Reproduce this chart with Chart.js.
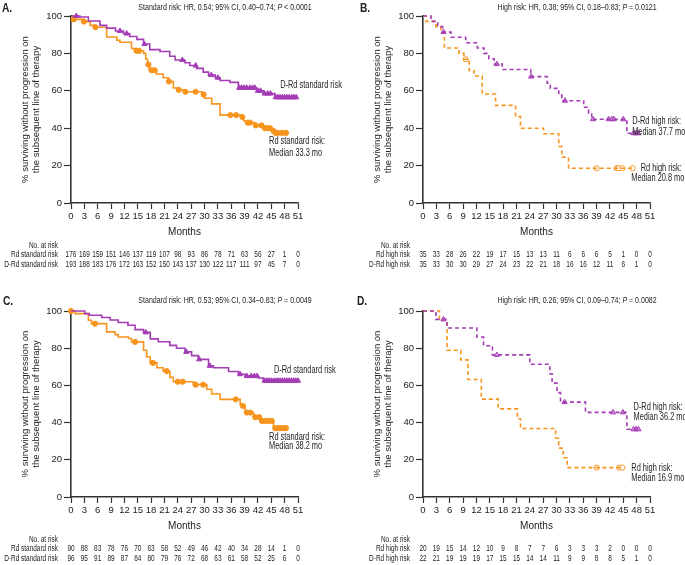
<!DOCTYPE html>
<html>
<head>
<meta charset="utf-8">
<script src="https://cdn.jsdelivr.net/npm/chart.js@4.4.1/dist/chart.umd.min.js"></script>
<style>
  body { margin: 0; background: #fff; width: 685px; height: 565px; position: relative; overflow: hidden; }
  .panel { position: absolute; }
</style>
</head>
<body>
<div class="panel" style="left:0;top:0"><canvas id="chartA" width="342" height="294"></canvas></div>
<div class="panel" style="left:342px;top:0"><canvas id="chartB" width="343" height="294"></canvas></div>
<div class="panel" style="left:0;top:294px"><canvas id="chartC" width="342" height="271"></canvas></div>
<div class="panel" style="left:342px;top:294px"><canvas id="chartD" width="343" height="271"></canvas></div>
<script>
// month ticks for the risk tables (0..51 every 3)
const riskMonths = [0, 3, 6, 9, 12, 15, 18, 21, 24, 27, 30, 33, 36, 39, 42, 45, 48, 51];

// ---- Panel A: standard risk ----
const aRdTimes = [0, 0.5, 2.8, 4.3, 5.4, 8, 10.3, 11, 13.6, 14.6, 16.3, 16.8, 17.2, 17.6, 19.2, 20.7, 21.9, 23, 24.1, 25.6, 29.5, 30, 31.6, 33.5, 38.2, 38.8, 39.6, 41.3, 43.2, 45.3, 45.8];
const aRdSurv = [100, 98.2, 97, 95, 94, 88.8, 87, 86, 82.6, 81.4, 80, 77, 74, 71, 69, 67, 65, 61.5, 60.5, 59.5, 58, 56, 53, 47, 46, 44, 43, 41.5, 40, 38.5, 37.5];
const aRdCensor = [0.6, 2.9, 5.5, 14.7, 15.3, 17.4, 18.1, 18.8, 22, 24.2, 25.7, 28, 29.8, 35.8, 37.1, 38.5, 39.7, 40.2, 41.5, 42.8, 43.6, 44.2, 44.7, 45.5, 46, 46.5, 47.4, 48.3];
const aRdEnd = 48.3;
const aDrdTimes = [0, 2, 3.9, 6.5, 8, 10, 11.8, 13.2, 14.8, 16.3, 17.7, 20, 22.2, 23.4, 25.6, 26.7, 28.2, 29.7, 30.9, 32.4, 33.5, 35.7, 37.6, 41.7, 43.2, 45.8];
const aDrdSurv = [100, 99.5, 97.3, 95, 93.5, 92, 90.6, 89, 87.5, 85, 82, 81, 78.5, 76.5, 75, 73.5, 72, 70, 68.4, 67, 65.5, 64.5, 61.6, 60, 58.5, 56.5];
const aDrdCensor = [1.2, 11, 12.5, 16.5, 25, 28, 31.5, 33, 37.8, 38.3, 38.9, 39.5, 40.2, 40.8, 41.3, 42, 42.6, 43.5, 44.2, 44.8, 46, 46.5, 47, 47.5, 48, 48.5, 49, 49.6, 50.1, 50.6];
const aDrdEnd = 50.6;
const aRdRisk = [176, 169, 159, 151, 146, 137, 119, 107, 98, 93, 86, 78, 71, 63, 56, 27, 1, 0];
const aDrdRisk = [193, 188, 183, 176, 172, 163, 152, 150, 143, 137, 130, 122, 117, 111, 97, 45, 7, 0];

// ---- Panel B: high risk ----
const bRdTimes = [0, 0.7, 2.9, 4, 4.8, 8.1, 9.2, 10.4, 11.5, 13.3, 16.3, 20.8, 21.9, 27.1, 30.5, 31.2, 32.7];
const bRdSurv = [100, 97.1, 94.3, 91.4, 82.9, 80, 76.9, 70.7, 67.9, 58.3, 52.2, 46.2, 40, 37, 30.2, 24.5, 18.6];
const bRdCensor = [9.6, 39, 43.5, 43.9, 44.8, 47.1];
const bRdEnd = 47.1;
const bDrdTimes = [0, 1.8, 3.3, 4.4, 6.3, 9.6, 12.2, 13.7, 14.8, 16, 17.8, 24.2, 27.9, 28.6, 30.5, 31.2, 36.1, 37.2, 37.9, 45.8];
const bDrdSurv = [100, 97.1, 94.3, 91.4, 88.6, 85.7, 82.9, 80, 77.1, 74.3, 71.4, 67.6, 64, 61.3, 57.7, 54.7, 51.2, 48, 44.8, 37.3];
const bDrdCensor = [4.6, 16.6, 24.3, 31.9, 38.2, 41.7, 42.4, 42.9, 45, 47.3, 47.9, 48.4];
const bDrdEnd = 48.4;
const bRdRisk = [35, 33, 28, 26, 22, 19, 17, 15, 13, 13, 11, 6, 6, 6, 5, 1, 0, 0];
const bDrdRisk = [35, 33, 30, 30, 29, 27, 24, 23, 22, 21, 18, 16, 16, 12, 11, 6, 1, 0];

// ---- Panel C: standard risk ----
const cRdTimes = [0, 0.9, 3.9, 4.6, 8, 9.9, 10.6, 12.9, 13.6, 16.3, 17, 17.8, 19.3, 20.7, 22.2, 23, 27.5, 30.5, 31.6, 33.5, 38, 38.4, 39.1, 41, 42.5, 45.5];
const cRdSurv = [100, 98.6, 95, 93.2, 88.8, 87.3, 86, 85.2, 83.4, 78.9, 75.4, 72.1, 69.5, 67.7, 64.3, 62, 60.4, 57.9, 55.4, 52.5, 50, 49, 45.4, 42.9, 40.9, 37];
const cRdCensor = [0, 5.4, 14.4, 18.4, 21.5, 24, 25.1, 28, 29.7, 37, 38.6, 39.5, 40.3, 41.4, 42.3, 42.9, 43.6, 44.4, 45.1, 45.9, 46.4, 46.9, 47.4, 47.9, 48.3];
const cRdEnd = 48.3;
const cDrdTimes = [0, 3.1, 4.1, 6.9, 8.8, 10.6, 12.8, 14.4, 16.3, 17.8, 19.6, 22.2, 23.7, 25.6, 27.1, 28.6, 30.9, 32, 35.4, 37.6, 39.1, 42.1, 43.2];
const cDrdSurv = [100, 98.6, 97.7, 96.5, 95.2, 93.8, 92.3, 90, 88.5, 85, 83.5, 81.5, 80, 78, 76, 74, 70.5, 69.5, 67.5, 66, 65, 64, 62.5];
const cDrdCensor = [16.8, 25.9, 28.8, 31.2, 38, 39.5, 40.5, 41.2, 41.8, 43.5, 44, 44.5, 45, 45.5, 46, 46.5, 47, 47.5, 48, 48.5, 49, 49.5, 50, 50.5, 51];
const cDrdEnd = 51;
const cRdRisk = [90, 88, 83, 78, 76, 70, 63, 58, 52, 49, 46, 42, 40, 34, 28, 14, 1, 0];
const cDrdRisk = [96, 95, 91, 89, 87, 84, 80, 79, 76, 72, 68, 63, 61, 58, 52, 25, 6, 0];

// ---- Panel D: high risk ----
const dRdTimes = [0, 3.7, 5.4, 8.5, 10.1, 13.1, 16.9, 21.2, 21.9, 29.8, 30.5, 31.5, 32.4];
const dRdSurv = [100, 95, 78.9, 73.7, 63.2, 52.6, 47.4, 42.1, 36.8, 31.6, 26.3, 21.1, 15.8];
const dRdCensor = [39, 44.1, 44.8];
const dRdEnd = 44.8;
const dDrdTimes = [0, 2.9, 5.4, 12.1, 13.6, 15.6, 24, 28.5, 29, 30.1, 30.9, 36.5, 45.8];
const dDrdSurv = [100, 95.5, 90.9, 86, 81.3, 76.4, 71.4, 66.3, 61.2, 56.1, 51, 45.5, 36.4];
const dDrdCensor = [4.6, 16.6, 31.8, 42.7, 44.9, 47.3, 47.9, 48.4];
const dDrdEnd = 48.4;
const dRdRisk = [20, 19, 15, 14, 12, 10, 9, 8, 7, 7, 6, 3, 3, 3, 2, 0, 0, 0];
const dDrdRisk = [22, 21, 19, 19, 19, 17, 15, 15, 14, 14, 11, 9, 9, 8, 8, 5, 1, 0];

const ORANGE = "#f7941d";
const PURPLE = "#a43db5";
const FONT = "'Liberation Sans', Arial, sans-serif";

// value of the step curve at time t
function survAt(times, surv, t) {
    let v = surv[0];
    for (let i = 0; i < times.length; i++) {
        if (times[i] <= t) v = surv[i];
    }
    return v;
}

function stepData(times, surv, end) {
    const pts = times.map((t, i) => ({ x: t, y: surv[i] }));
    pts.push({ x: end, y: surv[surv.length - 1] });
    return pts;
}

function curveSets(times, surv, censor, end, color, dashed, marker, open) {
    return [
        {
            type: "line",
            data: stepData(times, surv, end),
            borderColor: color,
            borderWidth: 1.6,
            borderDash: dashed ? [4, 3] : [],
            stepped: true,
            pointRadius: 0,
            fill: false
        },
        {
            type: "scatter",
            data: censor.map(t => ({ x: t, y: survAt(times, surv, t) })),
            pointStyle: marker,
            pointRadius: marker === "triangle" ? 3 : 2.6,
            borderWidth: 1,
            borderColor: color,
            backgroundColor: open ? (marker === "triangle" ? "rgba(196,130,210,0.8)" : "#fff") : color
        }
    ];
}

// narrow text: the original uses a condensed face, so squeeze horizontally
function narrowText(ctx, text, x, y, align, sx) {
    ctx.save();
    ctx.translate(x, y);
    ctx.scale(sx, 1);
    ctx.textAlign = align;
    ctx.fillText(text, 0, 0);
    ctx.restore();
}

// draws letter, HR title, curve labels and the number-at-risk table
function extrasPlugin(cfg) {
    return {
        id: "kmExtras",
        afterDraw(chart) {
            const ctx = chart.ctx;
            const x = chart.scales.x, y = chart.scales.y;
            const area = chart.chartArea;
            ctx.save();
            ctx.fillStyle = "#222";
            ctx.textBaseline = "middle";

            // panel letter
            ctx.font = "bold 12px " + FONT;
            narrowText(ctx, cfg.letter, cfg.letterX, cfg.titleY + 2, "left", 0.85);

            // title with italic P
            const sx = 0.74;
            const parts = [[cfg.title[0], "normal"], ["P", "italic"], [cfg.title[1], "normal"]];
            let total = 0;
            parts.forEach(p => { ctx.font = p[1] + " 9.5px " + FONT; total += ctx.measureText(p[0]).width * sx; });
            let tx = area.left + 154 - total / 2;
            parts.forEach(p => {
                ctx.font = p[1] + " 9.5px " + FONT;
                narrowText(ctx, p[0], tx, cfg.titleY, "left", sx);
                tx += ctx.measureText(p[0]).width * sx;
            });

            // curve labels
            ctx.font = "10px " + FONT;
            cfg.notes.forEach(n => {
                narrowText(ctx, n[0], x.getPixelForValue(n[1]), y.getPixelForValue(n[2]), "left", 0.74);
            });

            // number at risk
            ctx.font = "8.5px " + FONT;
            const labX = area.left - 13;
            narrowText(ctx, "No. at risk", labX, area.bottom + 43, "right", 0.76);
            narrowText(ctx, cfg.rows[0][0], labX, area.bottom + 52, "right", 0.76);
            narrowText(ctx, cfg.rows[1][0], labX, area.bottom + 61.5, "right", 0.76);
            riskMonths.forEach((m, i) => {
                const px = x.getPixelForValue(m);
                narrowText(ctx, String(cfg.rows[0][1][i]), px, area.bottom + 52, "center", 0.76);
                narrowText(ctx, String(cfg.rows[1][1][i]), px, area.bottom + 61.5, "center", 0.76);
            });
            ctx.restore();
        }
    };
}

function makeChart(id, opts) {
    const axisFont = { family: FONT, size: 9.5 };
    new Chart(document.getElementById(id), {
        data: { datasets: opts.datasets },
        options: {
            responsive: false,
            animation: false,
            layout: { padding: { left: 0, top: opts.top, right: opts.right, bottom: opts.bottom } },
            plugins: { legend: { display: false }, tooltip: { enabled: false } },
            elements: { line: { tension: 0 } },
            datasets: { line: { clip: false }, scatter: { clip: false } },
            scales: {
                x: {
                    type: "linear",
                    min: 0,
                    max: 51,
                    ticks: { stepSize: 3, autoSkip: false, color: "#222", font: axisFont, padding: 2, maxRotation: 0 },
                    grid: { drawOnChartArea: false, tickLength: 6, tickColor: "#333", tickWidth: 1.2 },
                    border: { color: "#333", width: 1.6 },
                    title: { display: true, text: "Months", color: "#222", font: { family: FONT, size: 10 }, padding: { top: 0, bottom: 5 } },
                    afterFit: s => { s.height = 40; }
                },
                y: {
                    min: 0,
                    max: 100,
                    ticks: { stepSize: 20, color: "#222", font: axisFont, padding: 2 },
                    grid: { drawOnChartArea: false, tickLength: 7, tickColor: "#333", tickWidth: 1.2 },
                    border: { color: "#333", width: 1.6 },
                    title: {
                        display: true,
                        text: ["% surviving without progression on", "the subsequent line of therapy"],
                        color: "#222",
                        font: { family: FONT, size: 9.5, lineHeight: 1.25 },
                        padding: { top: opts.titlePad, bottom: 0 }
                    },
                    afterFit: s => { s.width = opts.yWidth; }
                }
            }
        },
        plugins: [extrasPlugin(opts.extras)]
    });
}

makeChart("chartA", {
    top: 16, right: 44, bottom: 51, yWidth: 71, titlePad: 19,
    datasets: [
        ...curveSets(aDrdTimes, aDrdSurv, aDrdCensor, aDrdEnd, PURPLE, false, "triangle", false),
        ...curveSets(aRdTimes, aRdSurv, aRdCensor, aRdEnd, ORANGE, false, "circle", false)
    ],
    extras: {
        letter: "A.", letterX: 2, titleY: 7,
        title: ["Standard risk: HR, 0.54; 95% CI, 0.40\u20130.74; ", " < 0.0001"],
        notes: [["D-Rd standard risk", 47, 63], ["Rd standard risk:", 44.5, 32.8], ["Median 33.3 mo", 44.5, 26.7]],
        rows: [["Rd standard risk", aRdRisk], ["D-Rd standard risk", aDrdRisk]]
    }
});

makeChart("chartB", {
    top: 16, right: 35, bottom: 51, yWidth: 81, titlePad: 29,
    datasets: [
        ...curveSets(bDrdTimes, bDrdSurv, bDrdCensor, bDrdEnd, PURPLE, true, "triangle", true),
        ...curveSets(bRdTimes, bRdSurv, bRdCensor, bRdEnd, ORANGE, true, "circle", true)
    ],
    extras: {
        letter: "B.", letterX: 18, titleY: 7,
        title: ["High risk: HR, 0.38; 95% CI, 0.18\u20130.83; ", " = 0.0121"],
        notes: [["D-Rd high risk:", 47, 43.8], ["Median 37.7 mo", 47, 38], ["Rd high risk:", 48.9, 18.5], ["Median 20.8 mo", 46.8, 13.3]],
        rows: [["Rd high risk", bRdRisk], ["D-Rd high risk", bDrdRisk]]
    }
});

makeChart("chartC", {
    top: 17, right: 44, bottom: 28, yWidth: 71, titlePad: 19,
    datasets: [
        ...curveSets(cDrdTimes, cDrdSurv, cDrdCensor, cDrdEnd, PURPLE, false, "triangle", false),
        ...curveSets(cRdTimes, cRdSurv, cRdCensor, cRdEnd, ORANGE, false, "circle", false)
    ],
    extras: {
        letter: "C.", letterX: 3, titleY: 6,
        title: ["Standard risk: HR, 0.53; 95% CI, 0.34\u20130.83; ", " = 0.0049"],
        notes: [["D-Rd standard risk", 45.6, 68.2], ["Rd standard risk:", 44.5, 32.2], ["Median 38.2 mo", 44.5, 27.1]],
        rows: [["Rd standard risk", cRdRisk], ["D-Rd standard risk", cDrdRisk]]
    }
});

makeChart("chartD", {
    top: 17, right: 35, bottom: 28, yWidth: 81, titlePad: 29,
    datasets: [
        ...curveSets(dDrdTimes, dDrdSurv, dDrdCensor, dDrdEnd, PURPLE, true, "triangle", true),
        ...curveSets(dRdTimes, dRdSurv, dRdCensor, dRdEnd, ORANGE, true, "circle", true)
    ],
    extras: {
        letter: "D.", letterX: 15, titleY: 6,
        title: ["High risk: HR, 0.26; 95% CI, 0.09\u20130.74; ", " = 0.0082"],
        notes: [["D-Rd high risk:", 47.3, 48.2], ["Median 36.2 mo", 47.3, 43], ["Rd high risk:", 46.8, 15.5], ["Median 16.9 mo", 46.8, 10.2]],
        rows: [["Rd high risk", dRdRisk], ["D-Rd high risk", dDrdRisk]]
    }
});
</script>
</body>
</html>
